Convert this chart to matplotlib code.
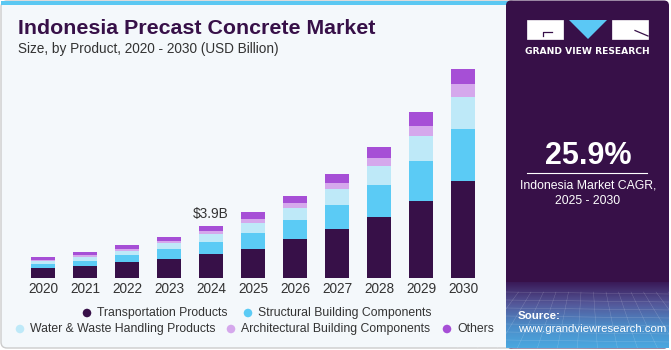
import matplotlib
matplotlib.use("Agg")
import matplotlib.pyplot as plt
import numpy as np
from matplotlib.patches import FancyBboxPatch, Rectangle, Polygon
from matplotlib.colors import LinearSegmentedColormap

years = ["2020", "2021", "2022", "2023", "2024", "2025", "2026", "2027", "2028", "2029", "2030"]
series_names = ["Transportation Products", "Structural Building Components",
                "Water & Waste Handling Products", "Architectural Building Components", "Others"]
transportation = [0.72, 0.90, 1.16, 1.42, 1.79, 2.19, 2.89, 3.63, 4.53, 5.72, 7.26]
structural = [0.30, 0.40, 0.52, 0.72, 0.90, 1.19, 1.42, 1.81, 2.39, 2.98, 3.83]
water = [0.22, 0.28, 0.33, 0.45, 0.57, 0.75, 0.94, 1.17, 1.46, 1.89, 2.43]
architectural = [0.13, 0.15, 0.17, 0.18, 0.28, 0.28, 0.37, 0.47, 0.60, 0.77, 0.95]
others = [0.20, 0.22, 0.28, 0.32, 0.37, 0.52, 0.50, 0.67, 0.80, 1.02, 1.10]
annot_label = "$3.9B"
annot_year = "2024"
cagr = "25.9%"

colors = ["#371048", "#5BCBF5", "#BEE9F8", "#D5A8EC", "#A64FD6"]
W, H = 671, 350
fig = plt.figure(figsize=(W / 100, H / 100), dpi=100)
fig.patch.set_facecolor("white")

# overlay axes in pixel coordinates (y from top)
ov = fig.add_axes([0, 0, 1, 1])
ov.set_xlim(0, W)
ov.set_ylim(H, 0)
ov.axis("off")
ov.set_autoscale_on(False)

# left card
ov.add_patch(FancyBboxPatch((1, 1), 515, 347, boxstyle="round,pad=0,rounding_size=6",
                            fc="#F4F8FB", ec="#CCCCCC", lw=1, zorder=0))
ov.add_patch(Rectangle((1, 0.5), 510, 4.5, fc="#5BC8F2", ec="none", zorder=1))

# right panel
ov.add_patch(FancyBboxPatch((506, 0.5), 163, 348, boxstyle="round,pad=0,rounding_size=5",
                            fc="#371048", ec="none", zorder=2))
grad = np.linspace(0, 1, 100)[:, None]
cmap = LinearSegmentedColormap.from_list("g", ["#3A1A58", "#54589A", "#4C8CC8", "#4AA8E0"])
ov.imshow(grad, extent=(506, 669, 348, 282), cmap=cmap, aspect="auto", zorder=3,
          interpolation="bilinear")
ov.set_xlim(0, W)
ov.set_ylim(H, 0)
# faint grid texture
for k in range(14):
    xx = 506 + k * 12.5
    ov.plot([xx, 506 + (xx - 506 - 81) * 1.6 + 81], [292, 348], color="white", lw=0.3,
            alpha=0.25, zorder=4, clip_on=True)
for k in range(8):
    yy = 292 + k * 8
    ov.plot([506, 669], [yy, yy + 2], color="white", lw=0.3, alpha=0.25, zorder=4)

# logo
ov.add_patch(Rectangle((527, 20), 36, 19, facecolor="white", edgecolor="white", lw=0.5, zorder=10))
ov.plot([552, 543, 543], [31.5, 31.5, 36], color="#371048", lw=0.9, zorder=11)
ov.add_patch(Polygon([(569, 20), (607, 20), (588, 39)], closed=True, facecolor="#5BC8F5",
                     edgecolor="none", zorder=10))
ov.add_patch(Rectangle((612, 20), 36, 19, facecolor="white", edgecolor="white", lw=0.5, zorder=10))
ov.plot([635, 648], [30.5, 36], color="#371048", lw=0.9, zorder=11)
ov.text(587.5, 51.5, "GRAND VIEW RESEARCH", color="white",
        fontsize=6.6, fontweight="bold", ha="center", va="center", zorder=11,
        family="DejaVu Sans")

ov.text(588, 155.5, cagr, color="white", fontsize=22, fontweight="bold", ha="center",
        va="center", family="Liberation Sans", zorder=6)
ov.plot([527, 647], [173.3, 173.3], color="white", lw=0.8, zorder=6)
ov.text(588, 186, "Indonesia Market CAGR,", color="white", fontsize=8.8, ha="center",
        va="center", family="Liberation Sans", zorder=6)
ov.text(588, 201, "2025 - 2030", color="white", fontsize=8.8, ha="center",
        va="center", family="Liberation Sans", zorder=6)
ov.text(518, 316, "Source:", color="white", fontsize=8.2, fontweight="bold", ha="left",
        va="center", family="Liberation Sans", zorder=6)
ov.text(518, 329.5, "www.grandviewresearch.com", color="white", fontsize=8.2, ha="left",
        va="center", family="Liberation Sans", zorder=6)

# titles
ov.text(18, 28, "Indonesia Precast Concrete Market", color="#371048", fontsize=15.4,
        fontweight="bold", ha="left", va="center", family="Liberation Sans", zorder=6)
ov.text(18, 49, "Size, by Product, 2020 - 2030 (USD Billion)", color="#333333", fontsize=9.8,
        ha="left", va="center", family="Liberation Sans", zorder=6)

# bar axes
base_px = 278
top_px = 60
left_px, right_px = 22, 484
ax = fig.add_axes([left_px / W, (H - base_px) / H, (right_px - left_px) / W, (base_px - top_px) / H])
ax.set_facecolor("none")
x = np.arange(len(years))
data = [transportation, structural, water, architectural, others]
bottom = np.zeros(len(years))
for vals, c, name in zip(data, colors, series_names):
    ax.bar(x, vals, bottom=bottom, width=0.58, color=c, label=name, zorder=3)
    bottom += np.array(vals)
ax.set_xlim(-0.5, len(years) - 0.5)
ax.set_ylim(0, (base_px - top_px) * 3.9 / 52.3)
for s in ax.spines.values():
    s.set_visible(False)
ax.set_yticks([])
ax.set_xticks(x)
ax.set_xticklabels(years, fontsize=9.8, color="#333333", family="Liberation Sans")
ax.tick_params(axis="x", length=0, pad=3)
i = years.index(annot_year)
ax.annotate(annot_label, (x[i], bottom[i]), xytext=(0, 3.5), textcoords="offset points",
            ha="center", va="bottom", fontsize=9.8, color="#333333", family="Liberation Sans")

# legend
leg_pos = [(87, 313), (248, 313), (20, 329), (231, 329), (447, 329)]
for (px, py), c, name in zip(leg_pos, colors, series_names):
    ov.scatter([px], [py], s=38, color=c, zorder=6, edgecolors="none")
    ov.text(px + 10, py, name, fontsize=8.8, color="#333333", ha="left", va="center",
            family="Liberation Sans", zorder=6)

fig.savefig("out.png", dpi=100, facecolor="white")
